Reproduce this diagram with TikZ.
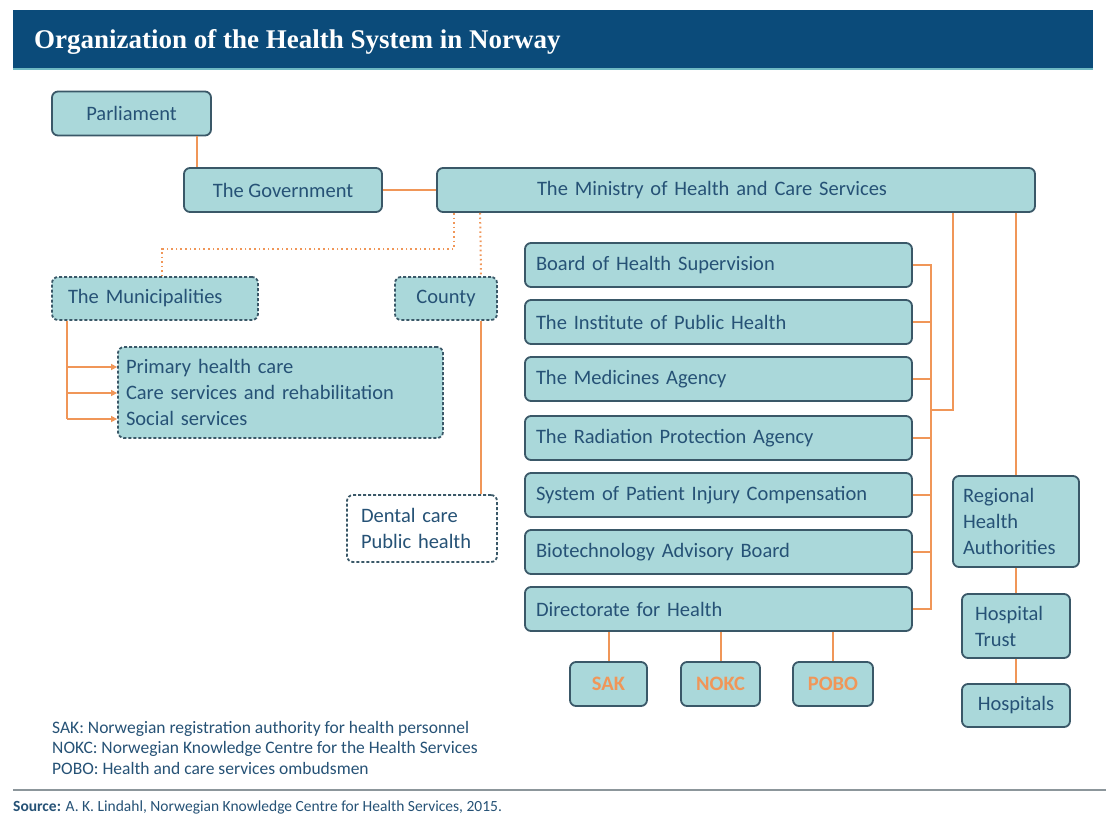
\documentclass[tikz,border=0pt]{standalone}
\usepackage{fontspec}
\setmainfont{Carlito}
\newfontfamily\headfont{Liberation Serif}
\usetikzlibrary{positioning,arrows.meta,calc}
\definecolor{titlebg}{RGB}{11,75,122}
\definecolor{titleline}{RGB}{110,185,195}
\definecolor{boxfill}{RGB}{170,216,218}
\definecolor{boxline}{RGB}{58,88,104}
\definecolor{ink}{RGB}{38,82,118}
\definecolor{wire}{RGB}{240,150,88}
\definecolor{rulegray}{RGB}{140,150,155}

\begin{document}
\begin{tikzpicture}[x=1pt,y=-1pt,
  box/.style={draw=boxline,fill=boxfill,line width=1.8pt,rounded corners=6pt,text=ink,inner sep=0pt,minimum height=44pt,font=\fontsize{20.5}{26}\selectfont},
  dotbox/.style={box,dash pattern=on 3pt off 2pt},
  leftbox/.style={box,align=left},
  abbr/.style={box,text=wire,font=\bfseries\fontsize{20.5}{26}\selectfont},
  link/.style={draw=wire,line width=2pt},
  dotlink/.style={draw=wire,line width=2pt,dash pattern=on 1.6pt off 3pt},
  tolist/.style={link,-{Triangle[length=6pt,width=6pt]}}]
\useasboundingbox[fill=white] (0,0) rectangle (1106,814);
\fill[titlebg] (13,10) rectangle (1093,68);
\draw[titleline,line width=2pt] (13,69) -- (1093,69);
\node[anchor=base west,text=white,inner sep=0pt,font=\headfont\bfseries\fontsize{27}{32}\selectfont] (title) at (34,48) {Organization of the Health System in Norway};

\node[box,minimum width=159pt] (parl) at (131.5,113.5) {Parliament};
\node[box,minimum width=198pt] (gov) at (283,190) {The Government};
\node[leftbox,text width=398pt,inner xsep=100pt] (mhcs) at (736,190) {The Ministry of Health and Care Services};

\node[dotbox,align=left,text width=174pt,inner xsep=16pt,minimum height=43pt] (muni) at (155,298.5) {The Municipalities};
\node[dotbox,minimum width=102pt,minimum height=43pt] (county) at (446,298.5) {County};
\node[dotbox,align=left,text width=309pt,inner xsep=8pt,minimum height=91pt] (mserv) at (280.5,392.5) {Primary health care\\Care services and rehabilitation\\Social services};
\node[dotbox,fill=white,align=left,text width=122pt,inner xsep=14pt,minimum height=67pt] (cserv) at (422,528.5) {Dental care\\Public health};

\node[leftbox,text width=365pt,inner xsep=11pt] (bhs) at (718.5,265) {Board of Health Supervision};
\node[leftbox,text width=365pt,inner xsep=11pt] (iph) at (718.5,322) {The Institute of Public Health};
\node[leftbox,text width=365pt,inner xsep=11pt] (ma) at (718.5,379) {The Medicines Agency};
\node[leftbox,text width=365pt,inner xsep=11pt] (rpa) at (718.5,438) {The Radiation Protection Agency};
\node[leftbox,text width=365pt,inner xsep=11pt] (spic) at (718.5,495) {System of Patient Injury Compensation};
\node[leftbox,text width=365pt,inner xsep=11pt] (bab) at (718.5,552) {Biotechnology Advisory Board};
\node[leftbox,text width=365pt,inner xsep=11pt] (dfh) at (718.5,609) {Directorate for Health};

\node[abbr,minimum width=77pt] (sak) at (608.5,684) {SAK};
\node[abbr,minimum width=79pt] (nokc) at (720.5,684) {NOKC};
\node[abbr,minimum width=80pt] (pobo) at (833,684) {POBO};

\node[leftbox,text width=106pt,inner xsep=10pt,minimum height=91pt] (rha) at (1016,521.5) {Regional\\Health\\Authorities};
\node[leftbox,text width=82pt,inner xsep=13pt,minimum height=64pt] (ht) at (1016,626) {Hospital\\Trust};
\node[box,minimum width=108pt,minimum height=43pt] (hosp) at (1016,705.5) {Hospitals};

\draw[link] ([xshift=65pt]parl.south) -- ([xshift=65pt]parl.south |- gov.north);
\draw[link] (gov.east) -- (mhcs.west);
\draw[dotlink] ([xshift=18pt]mhcs.south west) -- ++(0,36) -| ([xshift=7pt]muni.north);
\draw[dotlink] ([xshift=44pt]mhcs.south west) -- ([xshift=35pt]county.north);
\draw[link] ([xshift=35pt]county.south) -- ([xshift=35pt]county.south |- cserv.north);

\coordinate (mtrunk) at ([xshift=16pt]muni.south west);
\coordinate (row1) at ([yshift=25.5pt]mserv.west);
\coordinate (row2) at ([yshift=-0.5pt]mserv.west);
\coordinate (row3) at ([yshift=-26.5pt]mserv.west);
\draw[link] (mtrunk) -- (mtrunk |- row3);
\foreach \r in {row1,row2,row3} \draw[tolist] (mtrunk |- \r) -- (\r);

\draw[link] (bhs.east) -- ++(18,0) |- (dfh.east);
\foreach \a in {iph,ma,rpa,spic,bab} \draw[link] (\a.east) -- ++(18,0);
\coordinate (brk) at ([xshift=18pt]bhs.east |- 0,410);
\draw[link] (brk) -| ([xshift=-83pt]mhcs.south east);
\draw[link] (rha.north |- mhcs.south) -- (rha.north);
\draw[link] (rha.south) -- (ht.north);
\draw[link] (ht.south) -- (hosp.north);
\foreach \s in {sak,nokc,pobo} \draw[link] (\s.north |- dfh.south) -- (\s.north);

\node[anchor=north west,align=left,text=ink,inner sep=0pt,font=\fontsize{17.5}{20.5}\selectfont] (notes) at (52,721) {SAK: Norwegian registration authority for health personnel\\NOKC: Norwegian Knowledge Centre for the Health Services\\POBO: Health and care services ombudsmen};
\draw[rulegray,line width=1.2pt] (13,790) -- (1106,790);
\node[anchor=base west,text=ink,inner sep=0pt,font=\fontsize{15.5}{18}\selectfont] (src) at (13,811) {\textbf{Source:} A. K. Lindahl, Norwegian Knowledge Centre for Health Services, 2015.};
\end{tikzpicture}
\end{document}
